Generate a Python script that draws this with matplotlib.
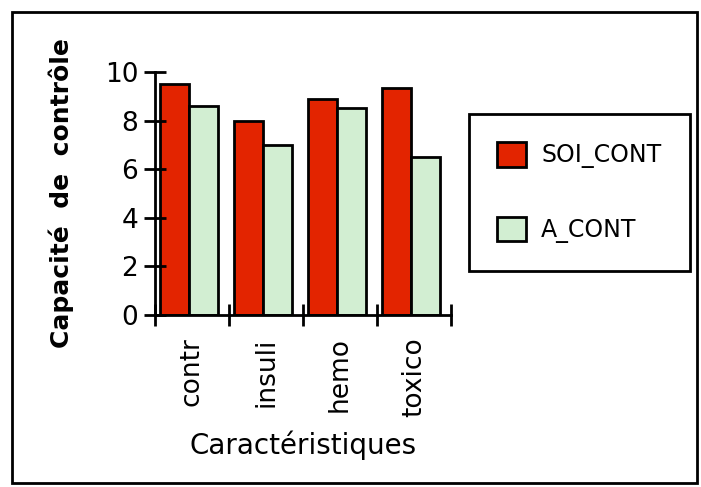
import numpy as np
import matplotlib.pyplot as plt
from matplotlib.patches import Rectangle

categories = ['contr', 'insuli', 'hemo', 'toxico']
soi_cont = [9.5, 8.0, 8.9, 9.35]
a_cont = [8.6, 7.0, 8.5, 6.5]

fig = plt.figure(figsize=(7.01, 4.87), dpi=100)
ax = fig.add_axes([155/701, 1-315/487, 296/701, 243/487])

x = np.arange(len(categories))
w = 0.39
ax.bar(x - w/2 - 0.04, soi_cont, w, color='#e32400', edgecolor='black', linewidth=2, label='SOI_CONT')
ax.bar(x + w/2 - 0.04, a_cont, w, color='#d2eed2', edgecolor='black', linewidth=2, label='A_CONT')

ax.set_xlim(-0.5, 3.5)
ax.set_ylim(0, 10)
ax.set_yticks([0, 2, 4, 6, 8, 10])
ax.set_xticks(np.arange(-0.5, 4, 1))
ax.set_xticklabels([])
ax.set_xticks(x, minor=True)
ax.set_xticklabels(categories, minor=True, rotation=90, fontsize=19)
ax.tick_params(axis='x', which='minor', length=0, pad=16)
ax.tick_params(axis='x', which='major', direction='inout', length=16, width=2)
ax.tick_params(axis='y', direction='inout', length=16, width=2, labelsize=19, pad=4)

for s in ['top', 'right']:
    ax.spines[s].set_visible(False)
for s in ['left', 'bottom']:
    ax.spines[s].set_linewidth(2)

ax.set_xlabel('Caractéristiques', fontsize=20, fontweight='medium')
ax.xaxis.set_label_coords(0.5, -(430-315)/243)
ax.set_ylabel('Capacité  de  contrôle', fontsize=18, fontweight='bold')
ax.yaxis.set_label_coords(-(155-74)/296, 0.5)

leg = ax.legend(loc='upper left', bbox_to_anchor=(469/701, 1-114/487), bbox_transform=fig.transFigure,
                fontsize=17, frameon=True, fancybox=False, edgecolor='black', framealpha=1,
                handlelength=1.2, handleheight=1.2, labelspacing=2.05, borderpad=1.2, handletextpad=0.65,
                borderaxespad=0)
leg.get_frame().set_linewidth(2)

fig.patches.append(Rectangle((12/701, 4/487), 685/701, 471/487, transform=fig.transFigure,
                             fill=False, edgecolor='black', linewidth=2))

fig.savefig('out.png', dpi=100)
